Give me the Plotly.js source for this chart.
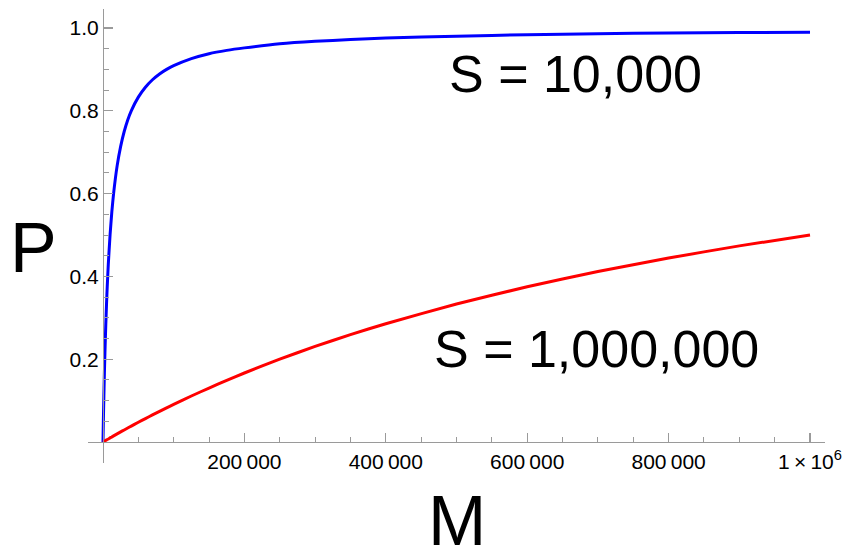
<!DOCTYPE html>
<html>
<head>
<meta charset="utf-8">
<script src="https://cdn.plot.ly/plotly-3.0.1.min.js"></script>
<style>html,body{margin:0;padding:0;background:#fff;}</style>
</head>
<body>
<div id="chart" style="width:843px;height:550px;"></div>
<script>
// M values (x) and probabilities
const M = [0, 500, 1000, 1500, 2000, 2500, 3000, 4000, 5000, 6000, 7500, 10000, 12500, 15000, 20000, 25000, 30000, 35000, 40000, 50000, 60000, 70000, 80000, 90000, 100000, 125000, 150000, 175000, 200000, 250000, 300000, 350000, 400000, 500000, 600000, 700000, 800000, 900000, 1000000];
const P_S10k = [0, 0.048, 0.091, 0.130, 0.167, 0.200, 0.231, 0.286, 0.333, 0.375, 0.429, 0.500, 0.556, 0.600, 0.667, 0.714, 0.750, 0.778, 0.800, 0.833, 0.857, 0.875, 0.889, 0.900, 0.909, 0.926, 0.938, 0.946, 0.952, 0.962, 0.968, 0.972, 0.976, 0.980, 0.984, 0.986, 0.988, 0.989, 0.990];
const P_S1M = [0, 0.0005, 0.001, 0.0015, 0.002, 0.0025, 0.003, 0.004, 0.005, 0.006, 0.0074, 0.0099, 0.0123, 0.0148, 0.0196, 0.0244, 0.0291, 0.0338, 0.0385, 0.0476, 0.0566, 0.0654, 0.0741, 0.0826, 0.0909, 0.1111, 0.1304, 0.1489, 0.1667, 0.2000, 0.2308, 0.2593, 0.2857, 0.3333, 0.3750, 0.4118, 0.4444, 0.4737, 0.5000];

const xTickVals = [200000, 400000, 600000, 800000, 1000000];
const xTickText = ["200\u2009000", "400\u2009000", "600\u2009000", "800\u2009000", "1\u2009\u00d7\u200910<sup>6</sup>"];
const yTickVals = [0.2, 0.4, 0.6, 0.8, 1.0];
const yTickText = ["0.2", "0.4", "0.6", "0.8", "1.0"];
const seriesLabels = ["S = 10,000", "S = 1,000,000"];

const xMinor = [];
for (let i = 1; i <= 20; i++) xMinor.push(i * 50000);
const yMinor = [];
for (let i = -1; i <= 20; i++) yMinor.push(Math.round(i * 5) / 100);

const axisColor = '#9a9a9a';
const font = 'Liberation Sans, Arial, sans-serif';

const traces = [
  {x: M, y: P_S10k, mode: 'lines', line: {color: '#0000ff', width: 3, shape: 'spline', smoothing: 0.5}, hoverinfo: 'skip'},
  {x: M, y: P_S1M, mode: 'lines', line: {color: '#ff0000', width: 3, shape: 'spline', smoothing: 0.5}, hoverinfo: 'skip'}
];

const xRange = [-21200, 1021200];
const yRange = [-0.0507, 1.0459];

const layout = {
  width: 843, height: 550,
  margin: {l: 88, r: 18, t: 9, b: 87},
  paper_bgcolor: '#fff', plot_bgcolor: '#fff',
  showlegend: false,
  font: {family: font, color: '#000'},
  xaxis: {
    range: xRange, anchor: 'free', position: (0 - yRange[0]) / (yRange[1] - yRange[0]),
    showgrid: false, zeroline: false, showline: true, linecolor: axisColor, linewidth: 1.3,
    tickmode: 'array', tickvals: xTickVals, ticktext: xTickText,
    ticks: 'inside', ticklen: 9, tickcolor: axisColor, tickwidth: 1.2,
    tickfont: {family: font, size: 21, color: '#000'},
    minor: {tickmode: 'array', tickvals: xMinor, ticks: 'inside', ticklen: 5, tickcolor: axisColor, tickwidth: 1},
    fixedrange: true
  },
  yaxis: {
    range: yRange, anchor: 'free', position: (0 - xRange[0]) / (xRange[1] - xRange[0]),
    showgrid: false, zeroline: false, showline: true, linecolor: axisColor, linewidth: 1.3,
    tickmode: 'array', tickvals: yTickVals, ticktext: yTickText,
    ticks: 'inside', ticklen: 9, tickcolor: axisColor, tickwidth: 1.2,
    tickfont: {family: font, size: 21, color: '#000'},
    minor: {tickmode: 'array', tickvals: yMinor, ticks: 'inside', ticklen: 5, tickcolor: axisColor, tickwidth: 1},
    fixedrange: true
  },
  annotations: [
    {xref: 'paper', yref: 'paper', x: -0.0746, y: 0.4736, text: 'P', showarrow: false,
     xanchor: 'center', yanchor: 'middle', font: {family: font, size: 70, color: '#000'}},
    {xref: 'paper', yref: 'paper', x: 0.5007, y: -0.1278, text: 'M', showarrow: false,
     xanchor: 'center', yanchor: 'middle', font: {family: font, size: 70, color: '#000'}},
    {xref: 'x', yref: 'y', x: 667600, y: 0.889, text: seriesLabels[0], showarrow: false,
     xanchor: 'center', yanchor: 'middle', font: {family: font, size: 52, color: '#000'}},
    {xref: 'x', yref: 'y', x: 697300, y: 0.2246, text: seriesLabels[1], showarrow: false,
     xanchor: 'center', yanchor: 'middle', font: {family: font, size: 52, color: '#000'}}
  ]
};

Plotly.newPlot('chart', traces, layout, {displayModeBar: false, staticPlot: true});
</script>
</body>
</html>
